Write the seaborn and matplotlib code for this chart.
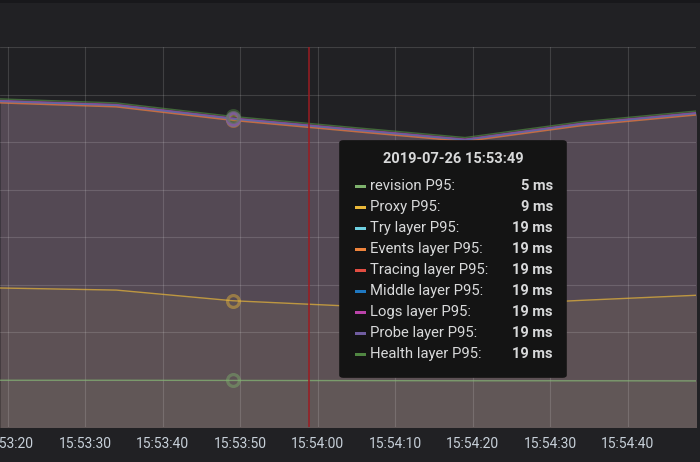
"""
Grafana-style P95 latency panel with hover tooltip, redrawn with seaborn.
"""

import pandas as pd
import matplotlib
matplotlib.use("Agg")
import matplotlib.pyplot as plt
import matplotlib.dates as mdates
from matplotlib.patches import FancyBboxPatch, Rectangle
import seaborn as sns

# ---- data ----
times = pd.to_datetime([
    "2019-07-26 15:53:19", "2019-07-26 15:53:34", "2019-07-26 15:53:49",
    "2019-07-26 15:54:04", "2019-07-26 15:54:19", "2019-07-26 15:54:34",
    "2019-07-26 15:54:49",
])

series_names = [
    "revision P95", "Proxy P95", "Try layer P95", "Events layer P95",
    "Tracing layer P95", "Middle layer P95", "Logs layer P95",
    "Probe layer P95", "Health layer P95",
]

revision = [4.98, 4.98, 4.97, 4.96, 4.95, 4.95, 4.94]
proxy = [9.83, 9.72, 9.16, 8.88, 8.88, 9.18, 9.45]
try_layer = [19.62, 19.41, 18.70, 18.14, 17.59, 18.42, 18.99]
events_layer = [19.56, 19.35, 18.64, 18.08, 17.53, 18.36, 18.93]
tracing_layer = [19.61, 19.40, 18.69, 18.13, 17.58, 18.41, 18.98]
middle_layer = [19.64, 19.43, 18.72, 18.16, 17.61, 18.44, 19.01]
logs_layer = [19.69, 19.48, 18.77, 18.21, 17.66, 18.49, 19.06]
probe_layer = [19.67, 19.46, 18.75, 18.19, 17.64, 18.47, 19.04]
health_layer = [19.77, 19.56, 18.85, 18.29, 17.74, 18.57, 19.14]

series_colors = ["#7EB26D", "#EAB839", "#6ED0E0", "#EF843C", "#E24D42",
                 "#1F78C1", "#BA43A9", "#705DA0", "#508642"]

hover_time = pd.Timestamp("2019-07-26 15:53:49")
cursor_time = pd.Timestamp("2019-07-26 15:53:58.9")
x_start = pd.Timestamp("2019-07-26 15:53:19.0")
x_end = pd.Timestamp("2019-07-26 15:54:48.8")

all_values = [revision, proxy, try_layer, events_layer, tracing_layer,
              middle_layer, logs_layer, probe_layer, health_layer]

df = pd.concat([
    pd.DataFrame({"time": times, "value": vals, "series": name})
    for name, vals in zip(series_names, all_values)
], ignore_index=True)

# ---- style ----
BG = "#212124"
sns.set_style("dark")
plt.rcParams["font.family"] = ["Roboto", "DejaVu Sans"]

fig = plt.figure(figsize=(7, 4.62), dpi=100, facecolor=BG)
ax = fig.add_axes([0, 1 - 427.4 / 462, 696 / 700, (427.4 - 47) / 462])
ax.set_facecolor(BG)

# fills first (Grafana fill = 1 -> alpha 0.1)
for name, col in zip(series_names, series_colors):
    sub = df[df["series"] == name]
    ax.fill_between(sub["time"], 0, sub["value"], color=col, alpha=0.1,
                    linewidth=0, zorder=1)

sns.lineplot(data=df, x="time", y="value", hue="series",
             hue_order=series_names, palette=series_colors,
             linewidth=1.0, alpha=0.7, legend=False, ax=ax, zorder=2)

# hover rings
for name, col in zip(series_names, series_colors):
    sub = df[(df["series"] == name) & (df["time"] == hover_time)]
    ax.plot(sub["time"], sub["value"], marker="o", markersize=8.5,
            markerfacecolor="none", markeredgecolor=col, markeredgewidth=2.3,
            alpha=0.45, zorder=5, linestyle="none")

# cursor line
ax.axvline(cursor_time, color="#9b1c22", linewidth=1.1, zorder=6)

ax.set_xlim(x_start, x_end)
ax.set_ylim(2.5, 22.5)
ax.set_yticks([2.5 + 2.5 * i for i in range(9)])
ax.xaxis.set_major_locator(mdates.SecondLocator(bysecond=range(0, 60, 10)))
ax.xaxis.set_major_formatter(mdates.DateFormatter("%H:%M:%S"))

ax.set_axisbelow("line")
ax.grid(True, color="white", alpha=0.14, linewidth=0.8)
for s in ax.spines.values():
    s.set_visible(False)
ax.tick_params(axis="y", left=False, labelleft=False)
ax.tick_params(axis="x", length=0, pad=7, labelsize=10, labelcolor="#c7d0d9")
ax.set_xlabel("")
ax.set_ylabel("")

# top strip of the dashboard background
fig.add_artist(Rectangle((0, 1 - 3 / 462), 1, 3 / 462, transform=fig.transFigure,
                         facecolor="#18181b", edgecolor="none"))

# ---- tooltip ----
def fx(px):
    return px / 700


def fy(py):
    return 1 - py / 462


box = FancyBboxPatch((fx(342), fy(376)), fx(564) - fx(342), fy(142) - fy(376),
                     boxstyle="round,pad=0.004,rounding_size=0.006",
                     transform=fig.transFigure, facecolor="#141414",
                     edgecolor="none", zorder=10)
fig.add_artist(box)

fig.text(fx(453), fy(159), hover_time.strftime("%Y-%m-%d %H:%M:%S"),
         ha="center", va="center", fontsize=10.5, fontweight="bold",
         color="#d8d9da", zorder=11)

for i, (name, col) in enumerate(zip(series_names, series_colors)):
    row_y = 186 + 21 * i
    val = df[(df["series"] == name) & (df["time"] == hover_time)]["value"].iloc[0]
    fig.add_artist(Rectangle((fx(355), fy(row_y + 1.5)), fx(11), 3 / 462,
                             transform=fig.transFigure, facecolor=col,
                             edgecolor="none", zorder=11))
    fig.text(fx(370), fy(row_y), name + ":", ha="left", va="center",
             fontsize=10.7, color="#d8d9da", zorder=11)
    fig.text(fx(553), fy(row_y), f"{round(val)} ms", ha="right", va="center",
             fontsize=10.5, fontweight="bold", color="#d8d9da", zorder=11)

fig.savefig("out.png", dpi=100, facecolor=BG)
